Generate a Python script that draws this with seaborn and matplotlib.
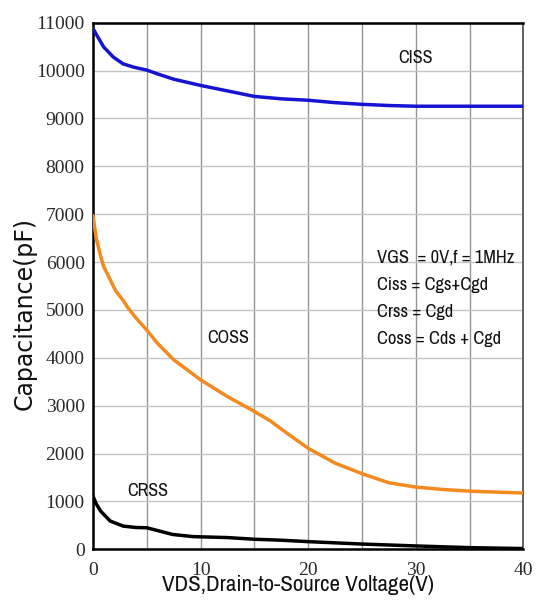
import matplotlib
matplotlib.use("Agg")
import matplotlib.pyplot as plt
import seaborn as sns
import pandas as pd
from matplotlib.ticker import MultipleLocator

# Input capacitance Ciss (pF) vs drain-source voltage (V)
vds_ciss = [0, 0.4, 1.0, 1.9, 2.8, 3.8, 5, 6, 7.5, 10, 12.5, 15, 17.5, 20,
            22.5, 25, 27.5, 30, 35, 40]
ciss = [10880, 10720, 10490, 10280, 10140, 10070, 10010, 9930, 9820,
        9690, 9575, 9460, 9410, 9380, 9330, 9295, 9270, 9255, 9255, 9255]

# Output capacitance Coss (pF)
vds_coss = [0, 0.3, 0.7, 1.0, 1.6, 2.1, 2.8, 3.2, 4, 5, 6, 7.5, 10, 12.5, 15,
            16.5, 18, 20, 22.5, 25, 27.5, 30, 32.5, 35, 37.5, 40]
coss = [6970, 6500, 6130, 5900, 5630, 5400, 5200, 5060, 4830, 4580, 4300,
        3960, 3540, 3190, 2880, 2680, 2430, 2110, 1800, 1580, 1390, 1300,
        1250, 1215, 1195, 1175]

# Reverse transfer capacitance Crss (pF)
vds_crss = [0, 0.3, 0.7, 1.6, 2.8, 4, 5, 6.2, 7.4, 9.3, 12.5, 15, 17.5, 20,
            25, 30, 35, 40]
crss = [1110, 950, 800, 590, 485, 455, 450, 380, 310, 265, 245, 210, 190,
        160, 110, 70, 35, 15]

x_ticks = [0, 10, 20, 30, 40]
y_ticks = list(range(0, 11001, 1000))

curve_colors = {"CISS": "#1414d2", "COSS": "#f38a1f", "CRSS": "#000000"}

df = pd.concat([
    pd.DataFrame({"VDS": vds_ciss, "C": ciss, "curve": "CISS"}),
    pd.DataFrame({"VDS": vds_coss, "C": coss, "curve": "COSS"}),
    pd.DataFrame({"VDS": vds_crss, "C": crss, "curve": "CRSS"}),
], ignore_index=True)

sns.set_theme(style="white")
plt.rcParams["font.family"] = ["Archivo Narrow", "DejaVu Sans"]

fig = plt.figure(figsize=(5.38, 6.05), dpi=100)
ax = fig.add_axes([93 / 538, 1 - 549.3 / 605, (523.3 - 93) / 538,
                   (549.3 - 22.7) / 605])

sns.lineplot(data=df, x="VDS", y="C", hue="curve", palette=curve_colors,
             linewidth=2.5, estimator=None, sort=False, legend=False, ax=ax,
             zorder=3)

ax.set_xlim(0, 40)
ax.set_ylim(0, 11000)
ax.set_xticks(x_ticks)
ax.xaxis.set_minor_locator(MultipleLocator(5))
ax.set_yticks(y_ticks)
ax.grid(True, which="both", axis="x", color="#959595", linewidth=1.0)
ax.grid(True, which="major", axis="y", color="#c4c4c4", linewidth=1.0)
ax.tick_params(which="both", length=0, labelsize=14,
               labelfontfamily="Liberation Serif", labelcolor="#2a2a2a")
ax.tick_params(axis="y", pad=6)
ax.tick_params(axis="x", pad=9)

for side in ("left", "bottom", "top"):
    ax.spines[side].set_color("#000000")
    ax.spines[side].set_linewidth(1.8)
ax.spines["right"].set_color("#555555")
ax.spines["right"].set_linewidth(1.3)

ax.set_xlabel("VDS,Drain-to-Source Voltage(V)", fontsize=16.5,
              color="#111111")
ax.xaxis.set_label_coords(0.476, -0.048)
ax.set_ylabel("Capacitance(pF)", fontsize=17, family=["DejaVu Sans"],
              color="#111111")
ax.yaxis.set_label_coords(-0.132, 0.447)

label_kw = dict(ha="center", va="center", fontsize=13, color="#111111")
ax.text(30, 10260, "CISS", **label_kw)
ax.text(12.6, 4415, "COSS", **label_kw)
ax.text(5.05, 1215, "CRSS", **label_kw)

notes = ["VGS  = 0V,f = 1MHz", "Ciss = Cgs+Cgd", "Crss = Cgd",
         "Coss = Cds + Cgd"]
note_y = [6085, 5521, 4957, 4393]
for s, yv in zip(notes, note_y):
    ax.text(26.4, yv, s, ha="left", va="center", fontsize=13.3,
            color="#111111")

fig.savefig("out.png", dpi=100)
